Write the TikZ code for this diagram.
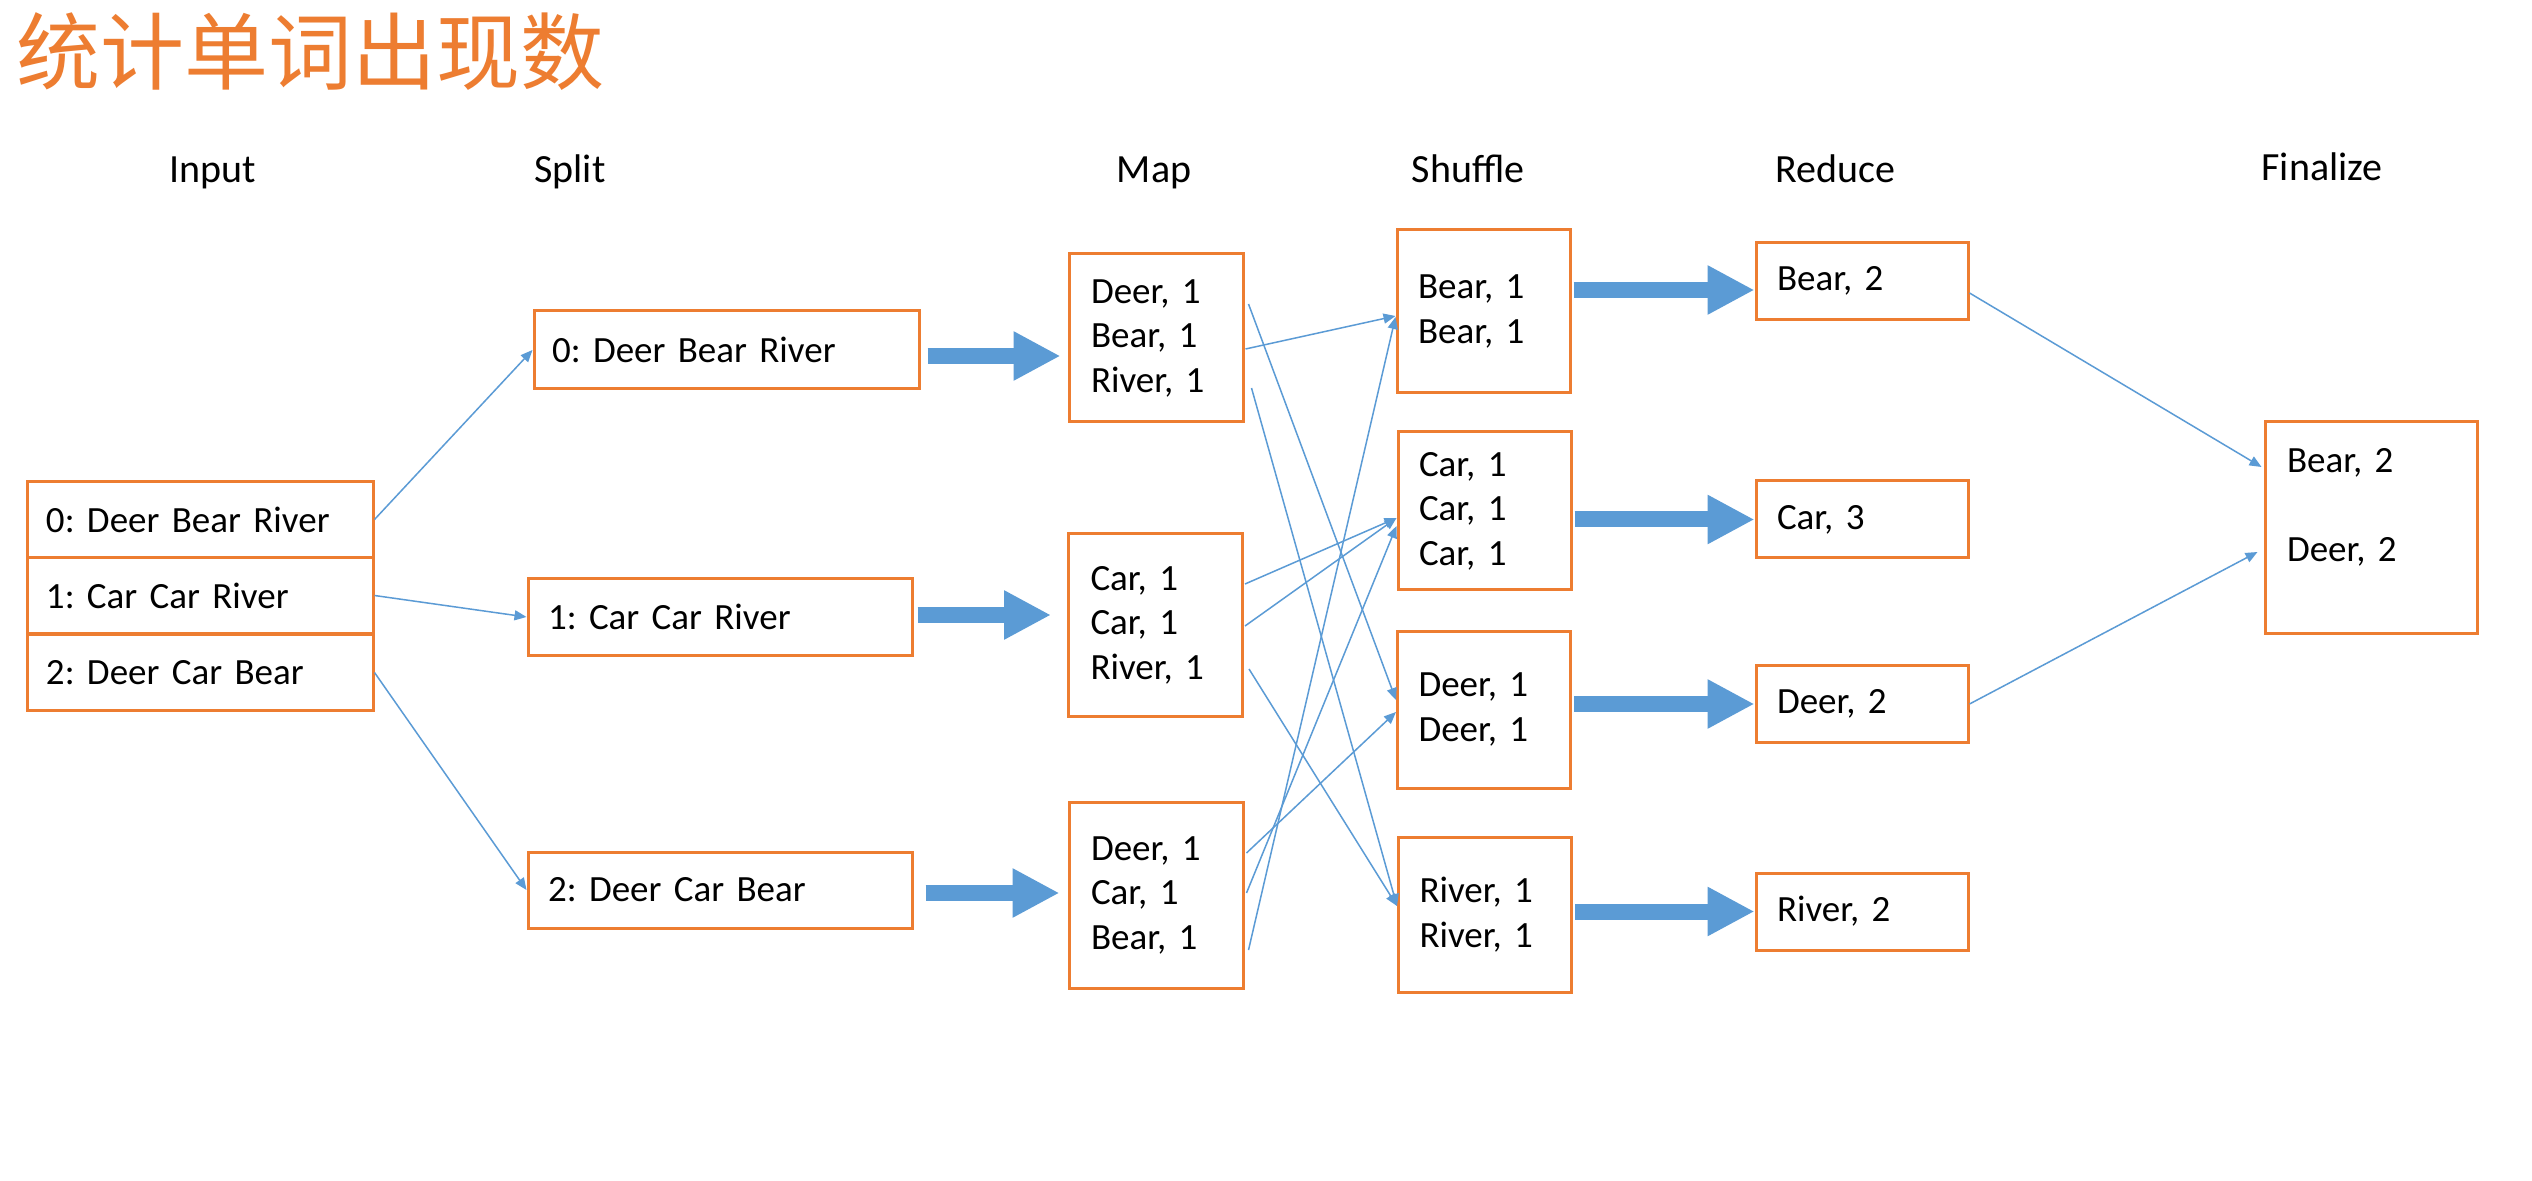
\documentclass[tikz,border=0pt]{standalone}
\usepackage{fontspec}
\setmainfont{Carlito}[WordSpace=0.8]
\newfontfamily\cjkfont{Noto Sans CJK SC}
\usetikzlibrary{arrows.meta,calc}
\definecolor{boxorange}{RGB}{237,125,49}
\definecolor{linkblue}{RGB}{91,155,213}
\begin{document}
\frenchspacing
\begin{tikzpicture}[x=0.5pt,y=-0.5pt,
  box/.style={draw=boxorange, line width=1.5pt, align=left, inner ysep=0pt, text=black,
    font=\fontsize{18.5}{22.25}\selectfont\frenchspacing},
  inbox/.style={box, text width=154pt, inner xsep=9.5pt, minimum height=38pt},
  splitbox/.style={box, text width=172pt, inner xsep=10pt, minimum height=38pt},
  mapbox/.style={box, text width=65pt, inner xsep=11pt},
  shufbox/.style={box, text width=65.5pt, inner xsep=10.5pt},
  redbox/.style={box, text width=85pt, inner xsep=10.5pt, minimum height=38.5pt},
  header/.style={anchor=base, inner sep=0pt, font=\fontsize{20}{24}\selectfont},
  link/.style={draw=linkblue, line width=0.75pt, -{Triangle[length=6pt,width=5pt]}},
  bigarrow/.style={draw=linkblue, line width=8pt, -{Triangle[length=23.5pt,width=23pt]}}
]
\fill[white] (0,0) rectangle (2532,1181);
\useasboundingbox (0,0) rectangle (2532,1181);

% title
\node[anchor=base west, inner sep=0pt, text=boxorange,
  font=\cjkfont\fontsize{42}{50}\selectfont] (title) at (16,84) {统计单词出现数};

% headers
\node[header] (hInput) at (213,183) {Input};
\node[header] (hSplit) at (570,183) {Split};
\node[header] (hMap) at (1154,183) {Map};
\node[header] (hShuffle) at (1468,183) {Shuffle};
\node[header] (hReduce) at (1835,183) {Reduce};
\node[header] (hFinal) at (2322,181) {Finalize};

% input
\node[inbox] (In0) at (200,519.5) {0: Deer Bear River};
\node[inbox] (In1) at (200,595.5) {1: Car Car River};
\node[inbox] (In2) at (200,672.5) {2: Deer Car Bear};

% split
\node[splitbox, text width=174.5pt, inner xsep=9pt, minimum height=39pt] (S0) at (726.5,350) {0: Deer Bear River};
\node[splitbox] (S1) at (720,617) {1: Car Car River};
\node[splitbox] (S2) at (720,890) {2: Deer Car Bear};

% map
\node[mapbox, minimum height=84pt] (M0) at (1156,338) {Deer, 1\\Bear, 1\\River, 1};
\node[mapbox, minimum height=91pt] (M1) at (1155.5,625) {Car, 1\\Car, 1\\River, 1};
\node[mapbox, minimum height=93pt] (M2) at (1156,895) {Deer, 1\\Car, 1\\Bear, 1};

% shuffle
\node[shufbox, minimum height=81.5pt] (Sh0) at (1483.5,311.5) {Bear, 1\\Bear, 1};
\node[shufbox, minimum height=79pt] (Sh1) at (1484.5,511) {Car, 1\\Car, 1\\Car, 1};
\node[shufbox, minimum height=78.5pt] (Sh2) at (1484,709.5) {Deer, 1\\Deer, 1};
\node[shufbox, minimum height=77.5pt] (Sh3) at (1485,914.5) {River, 1\\River, 1};

% reduce
\node[redbox] (R0) at (1862,281) {Bear, 2};
\node[redbox] (R1) at (1862,519.5) {Car, 3};
\node[redbox] (R2) at (1862,704) {Deer, 2};
\node[redbox] (R3) at (1862,911.5) {River, 2};

% finalize
\node[box, text width=84pt, inner xsep=11pt, minimum height=105.5pt] (F) at (2371,527.5)
  {Bear, 2\\\mbox{}\\Deer, 2\\\mbox{}};

% input -> split
\draw[link] (In0.east) -- (S0.west);
\draw[link] (In1.east) -- (S1.west);
\draw[link] (In2.east) -- (S2.west);

% split -> map
\draw[bigarrow] ([xshift=3.5pt,yshift=-3pt]S0.east) -- ([xshift=-3.5pt,yshift=-3pt]S0.east -| M0.west);
\draw[bigarrow] ([xshift=2pt,yshift=1pt]S1.east) -- ([xshift=-8pt,yshift=1pt]S1.east -| M1.west);
\draw[bigarrow] ([xshift=6pt,yshift=-1.5pt]S2.east) -- ([xshift=-4pt,yshift=-1.5pt]S2.east -| M2.west);

% map -> shuffle
\draw[link] ([xshift=2pt,yshift=17pt]M0.east) -- ([yshift=4.75pt]Sh2.west);
\draw[link] ([xshift=0.5pt,yshift=-5.5pt]M0.east) -- ([yshift=-2.25pt]Sh0.west);
\draw[link] ([xshift=3.5pt,yshift=-25pt]M0.east) -- ([yshift=4.25pt]Sh3.west);
\draw[link] ([xshift=0.5pt,yshift=20.5pt]M1.east) -- ([yshift=-3.5pt]Sh1.west);
\draw[link] ([xshift=0.5pt,yshift=-0.5pt]M1.east) -- ([yshift=-3.5pt]Sh1.west);
\draw[link] ([xshift=2.5pt,yshift=-22pt]M1.east) -- ([yshift=4.25pt]Sh3.west);
\draw[link] ([xshift=1pt,yshift=21pt]M2.east) -- ([yshift=-1.25pt]Sh2.west);
\draw[link] ([xshift=1pt,yshift=1pt]M2.east) -- ([yshift=-7.5pt]Sh1.west);
\draw[link] ([xshift=2pt,yshift=-27.5pt]M2.east) -- ([yshift=-2.75pt]Sh0.west);

% shuffle -> reduce
\draw[bigarrow] ([xshift=1pt,yshift=-4.5pt]Sh0.east |- R0.west) -- ([yshift=-4.5pt]R0.west);
\draw[bigarrow] ([xshift=1pt]Sh1.east |- R1.west) -- (R1.west);
\draw[bigarrow] ([xshift=1pt]Sh2.east |- R2.west) -- (R2.west);
\draw[bigarrow] ([xshift=1pt]Sh3.east |- R3.west) -- (R3.west);

% reduce -> finalize
\draw[link] ([yshift=-6pt]R0.east) -- ([xshift=-1pt,yshift=30.25pt]F.west);
\draw[link] (R2.east) -- ([xshift=-3pt,yshift=-12.25pt]F.west);
\end{tikzpicture}
\end{document}
